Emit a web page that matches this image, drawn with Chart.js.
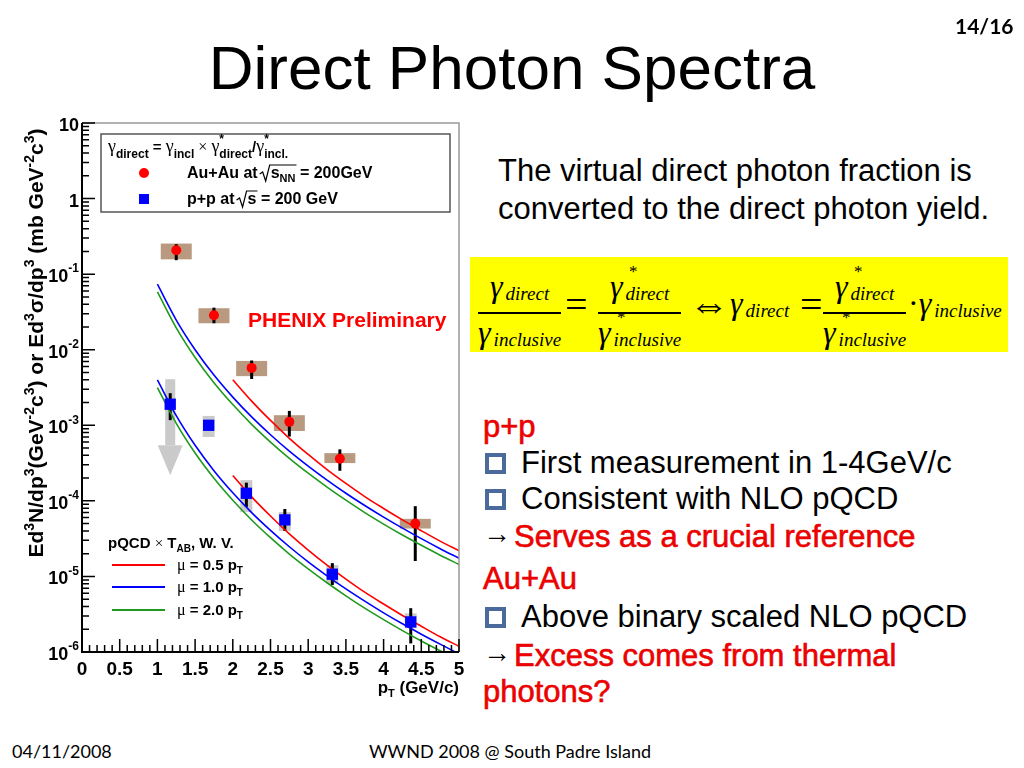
<!DOCTYPE html>
<html>
<head>
<meta charset="utf-8">
<title>Direct Photon Spectra</title>
<script src="https://cdn.jsdelivr.net/npm/chart.js@4.4.0/dist/chart.umd.min.js"></script>
<style>
  html, body { margin: 0; padding: 0; background: #fff; }
  #slide { position: relative; width: 1024px; height: 768px; overflow: hidden;
           font-family: 'Liberation Sans', Arial, sans-serif; color: #000; }
  #plot { position: absolute; left: 0; top: 0; }
  .t { position: absolute; white-space: nowrap; }
  #title { left: 0; width: 1024px; text-align: center; top: 37px; font-size: 62px; line-height: 62px; }
  #page { left: 955px; top: 14px; font: bold 21px Lato, 'Open Sans', sans-serif; line-height: 24px; }
  .foot { top: 740px; font: 18px Lato, 'Open Sans', sans-serif; line-height: 22px; }
  .body { font-size: 31px; line-height: 36px; }
  .red { color: #f20000; -webkit-text-stroke: 0.6px #e00000; }
  .sq { position: absolute; width: 13px; height: 13px; border: 4px solid #4a6a9b; }
  .arr { font-size: 28px; position: absolute; left: 0; top: -3px; }
  #formula { position: absolute; left: 470px; top: 257px; width: 538px; height: 95px; background: #ffff00;
             font-family: 'Liberation Serif', 'Times New Roman', serif; }
  .fx { position: absolute; top: 12px; display: flex; flex-direction: column; align-items: center; }
  .fx .bar { width: 100%; height: 1.5px; background: #000; margin: 1px 0; }
  .cell { font-style: italic; font-size: 32px; line-height: 34px; position: relative; white-space: nowrap; }
  .cell .sb { font-size: 19px; margin-left: 3px; vertical-align: -3px; }
  .cell .st { position: absolute; font-size: 17px; top: -14px; left: 19px; font-style: normal; }
  .op { position: absolute; font-size: 40px; line-height: 40px; top: 28px; }
  .mid { position: absolute; top: 29px; }
</style>
</head>
<body>
<div id="slide">
  <canvas id="plot" width="470" height="720"></canvas>

  <div class="t" id="title">Direct Photon Spectra</div>
  <div class="t" id="page">14/16</div>

  <div class="t body" style="left:498px; top:153px;">The virtual direct photon fraction is</div>
  <div class="t body" style="left:498px; top:191px;">converted to the direct photon yield.</div>

  <div id="formula">
    <div class="fx" style="left:8px;">
      <div class="cell">γ<span class="sb">direct</span></div>
      <div class="bar"></div>
      <div class="cell">γ<span class="sb">inclusive</span></div>
    </div>
    <div class="op" style="left:95px;">=</div>
    <div class="fx" style="left:128px;">
      <div class="cell">γ<span class="st">*</span><span class="sb">direct</span></div>
      <div class="bar"></div>
      <div class="cell">γ<span class="st">*</span><span class="sb">inclusive</span></div>
    </div>
    <div class="op" style="left:219px;">⇔</div>
    <div class="cell mid" style="left:260px;">γ<span class="sb">direct</span></div>
    <div class="op" style="left:330px;">=</div>
    <div class="fx" style="left:353px;">
      <div class="cell">γ<span class="st">*</span><span class="sb">direct</span></div>
      <div class="bar"></div>
      <div class="cell">γ<span class="st">*</span><span class="sb">inclusive</span></div>
    </div>
    <div class="cell mid" style="left:438px;"><span style="font-style:normal">·</span>γ<span class="sb">inclusive</span></div>
  </div>

  <div class="t body red" style="left:483px; top:409px;">p+p</div>
  <div class="sq" style="left:485px; top:453px;"></div>
  <div class="t body" style="left:521px; top:445px;">First measurement in 1-4GeV/c</div>
  <div class="sq" style="left:485px; top:489px;"></div>
  <div class="t body" style="left:521px; top:481px;">Consistent with NLO pQCD</div>
  <div class="t body" style="left:483px; top:519px;"><span class="arr">→</span></div>
  <div class="t body red" style="left:514px; top:519px;">Serves as a crucial reference</div>
  <div class="t body red" style="left:483px; top:561px;">Au+Au</div>
  <div class="sq" style="left:485px; top:607px;"></div>
  <div class="t body" style="left:521px; top:599px;">Above binary scaled NLO pQCD</div>
  <div class="t body" style="left:483px; top:638px;"><span class="arr">→</span></div>
  <div class="t body red" style="left:514px; top:638px;">Excess comes from thermal</div>
  <div class="t body red" style="left:483px; top:674px;">photons?</div>

  <div class="t foot" style="left:12px;">04/11/2008</div>
  <div class="t foot" style="left:0; width:1020px; text-align:center;">WWND 2008 @ South Padre Island</div>
</div>

<script>
// ---- data ----
const X_TICK_VALUES = [0, 0.5, 1, 1.5, 2, 2.5, 3, 3.5, 4, 4.5, 5];
const X_TICK_LABELS = ['0', '0.5', '1', '1.5', '2', '2.5', '3', '3.5', '4', '4.5', '5'];
const Y_TICK_VALUES = [10, 1, 1e-1, 1e-2, 1e-3, 1e-4, 1e-5, 1e-6];
const Y_TICK_BASE = ['10', '1', '10', '10', '10', '10', '10', '10'];
const Y_TICK_EXP = ['', '', '-1', '-2', '-3', '-4', '-5', '-6'];

// Au+Au (red circles)
const AUAU_PT = [1.25, 1.75, 2.25, 2.75, 3.42, 4.42];
const AUAU_Y = [0.207, 0.0286, 5.75e-3, 1.11e-3, 3.6e-4, 5.0e-5];
const AUAU_STAT_HI = [0.249, 0.036, 7.2e-3, 1.55e-3, 4.8e-4, 8.5e-5];
const AUAU_STAT_LO = [0.153, 0.0224, 4.1e-3, 7.1e-4, 2.5e-4, 1.6e-5];
const AUAU_SYS_HI = [0.254, 0.0354, 7.1e-3, 1.36e-3, 4.28e-4, 5.78e-5];
const AUAU_SYS_LO = [0.157, 0.0224, 4.47e-3, 8.4e-4, 3.16e-4, 4.3e-5];

// p+p (blue squares), first point is shown as an upper-limit arrow
const PP_PT = [1.17, 1.68, 2.18, 2.69, 3.32, 4.36];
const PP_Y = [1.9e-3, 1.0e-3, 1.26e-4, 5.6e-5, 1.07e-5, 2.5e-6];
const PP_STAT_HI = [2.66e-3, 1.08e-3, 1.74e-4, 7.8e-5, 1.5e-5, 3.8e-6];
const PP_STAT_LO = [1.17e-3, 0.9e-3, 8.3e-5, 4.0e-5, 7.7e-6, 1.3e-6];
const PP_SYS_HI = [null, 1.33e-3, 1.88e-4, 7.1e-5, 1.41e-5, 3.24e-6];
const PP_SYS_LO = [null, 7.0e-4, 7.1e-5, 4.0e-5, 8.07e-6, 2.06e-6];
const PP_ARROW = [4.07e-3, 5.46e-4, 2.19e-4]; // top, neck, tip

// NLO pQCD curves (W. Vogelsang), mu = 0.5 / 1.0 / 2.0 pT
const PT_CURVE = [1.0, 1.25, 1.5, 1.75, 2.0, 2.25, 2.5, 2.75, 3.0, 3.25, 3.5, 3.75, 4.0, 4.25, 4.5, 4.75, 5.0];
const PT_CURVE_05 = [2.0, 2.25, 2.5, 2.75, 3.0, 3.25, 3.5, 3.75, 4.0, 4.25, 4.5, 4.75, 5.0];
const AUAU_MU05 = [4.0e-3, 2.09e-3, 1.16e-3, 6.73e-4, 4.11e-4, 2.59e-4, 1.70e-4, 1.14e-4, 7.93e-5, 5.60e-5, 4.03e-5, 2.93e-5, 2.19e-5];
const AUAU_MU10 = [7.35e-2, 2.47e-2, 1.00e-2, 4.62e-3, 2.36e-3, 1.29e-3, 7.50e-4, 4.55e-4, 2.88e-4, 1.88e-4, 1.26e-4, 8.67e-5, 6.08e-5, 4.35e-5, 3.16e-5, 2.33e-5, 1.74e-5];
const AUAU_MU20 = [5.82e-2, 1.95e-2, 7.9e-3, 3.66e-3, 1.88e-3, 1.03e-3, 6.0e-4, 3.65e-4, 2.32e-4, 1.52e-4, 1.02e-4, 7.0e-5, 4.93e-5, 3.53e-5, 2.58e-5, 1.91e-5, 1.44e-5];
const PP_MU05 = [2.17e-4, 1.13e-4, 6.30e-5, 3.65e-5, 2.23e-5, 1.41e-5, 9.23e-6, 6.19e-6, 4.31e-6, 3.04e-6, 2.19e-6, 1.59e-6, 1.19e-6];
const PP_MU10 = [3.99e-3, 1.34e-3, 5.43e-4, 2.51e-4, 1.28e-4, 7.0e-5, 4.07e-5, 2.47e-5, 1.56e-5, 1.02e-5, 6.84e-6, 4.71e-6, 3.30e-6, 2.36e-6, 1.72e-6, 1.27e-6, 9.45e-7];
const PP_MU20 = [3.16e-3, 1.06e-3, 4.29e-4, 1.99e-4, 1.02e-4, 5.59e-5, 3.26e-5, 1.98e-5, 1.26e-5, 8.25e-6, 5.54e-6, 3.80e-6, 2.68e-6, 1.92e-6, 1.40e-6, 1.04e-6, 7.82e-7];

const RED = '#ff0000', BLUE = '#0000ff', GREEN = '#1f9a1f';
const SANS = "'Liberation Sans', Arial, sans-serif";
const GREEK = "'Liberation Serif', 'DejaVu Serif', serif";
const B = (s) => `bold ${s}px ${SANS}`;

const pts = (xs, ys) => xs.map((x, i) => ({ x: x, y: ys[i] }));

// draw a run of text pieces (sub/superscripts via dy), returns end x
function drawParts(ctx, x, y, parts, measureOnly) {
    for (const p of parts) {
        ctx.font = p.f;
        if (!measureOnly) {
            ctx.fillStyle = p.c || '#000';
            ctx.fillText(p.t, x, y + (p.dy || 0));
        }
        if (!p.stay) x += ctx.measureText(p.t).width;
    }
    return x;
}

function drawSqrt(ctx, x, yb, w, h) {
    ctx.beginPath();
    ctx.moveTo(x, yb - 6);
    ctx.lineTo(x + 3, yb - 8);
    ctx.lineTo(x + 6, yb + 1);
    ctx.lineTo(x + 10, yb - h);
    ctx.lineTo(x + w, yb - h);
    ctx.strokeStyle = '#000';
    ctx.lineWidth = 1.2;
    ctx.stroke();
}

const rootStyle = {
    id: 'rootStyle',
    beforeDatasetsDraw(chart) {
        const { ctx, chartArea: a, scales: { x, y } } = chart;
        ctx.save();
        ctx.beginPath();
        ctx.rect(a.left, a.top, a.right - a.left, a.bottom - a.top);
        ctx.clip();

        // systematic boxes
        ctx.fillStyle = '#b99a80';
        AUAU_PT.forEach((p, i) => {
            const px = x.getPixelForValue(p);
            const y0 = y.getPixelForValue(AUAU_SYS_HI[i]);
            const y1 = y.getPixelForValue(AUAU_SYS_LO[i]);
            ctx.fillRect(px - 15.5, y0, 31, y1 - y0);
        });
        ctx.fillStyle = '#cacaca';
        PP_PT.forEach((p, i) => {
            if (PP_SYS_HI[i] == null) return;
            const px = x.getPixelForValue(p);
            const y0 = y.getPixelForValue(PP_SYS_HI[i]);
            const y1 = y.getPixelForValue(PP_SYS_LO[i]);
            ctx.fillRect(px - 6, y0, 12, y1 - y0);
        });

        // upper-limit arrow on the first p+p point
        const ax = x.getPixelForValue(PP_PT[0]);
        const aTop = y.getPixelForValue(PP_ARROW[0]);
        const aNeck = y.getPixelForValue(PP_ARROW[1]);
        const aTip = y.getPixelForValue(PP_ARROW[2]);
        ctx.fillRect(ax - 5, aTop, 10, aNeck - aTop);
        ctx.beginPath();
        ctx.moveTo(ax - 12.5, aNeck);
        ctx.lineTo(ax + 12.5, aNeck);
        ctx.lineTo(ax, aTip);
        ctx.closePath();
        ctx.fill();

        // statistical error bars
        ctx.strokeStyle = '#000';
        ctx.lineWidth = 3;
        const bar = (p, hi, lo) => {
            const px = x.getPixelForValue(p);
            ctx.beginPath();
            ctx.moveTo(px, y.getPixelForValue(hi));
            ctx.lineTo(px, y.getPixelForValue(lo));
            ctx.stroke();
        };
        AUAU_PT.forEach((p, i) => bar(p, AUAU_STAT_HI[i], AUAU_STAT_LO[i]));
        PP_PT.forEach((p, i) => bar(p, PP_STAT_HI[i], PP_STAT_LO[i]));
        ctx.restore();
    },
    afterDraw(chart) {
        const { ctx, chartArea: a, scales: { x, y } } = chart;
        ctx.save();
        ctx.textBaseline = 'alphabetic';

        // frame: gray top/right, black axes
        ctx.strokeStyle = '#999';
        ctx.lineWidth = 1.5;
        ctx.beginPath();
        ctx.moveTo(a.left, a.top);
        ctx.lineTo(a.right, a.top);
        ctx.lineTo(a.right, a.bottom);
        ctx.stroke();
        ctx.strokeStyle = '#000';
        ctx.lineWidth = 2;
        ctx.beginPath();
        ctx.moveTo(a.left, a.top);
        ctx.lineTo(a.left, a.bottom);
        ctx.lineTo(a.right, a.bottom);
        ctx.stroke();

        // inward ticks
        ctx.lineWidth = 1.5;
        ctx.beginPath();
        for (let i = 0; i <= 50; i++) {
            const px = x.getPixelForValue(i / 10);
            const len = i % 5 === 0 ? 13 : 7;
            ctx.moveTo(px, a.bottom);
            ctx.lineTo(px, a.bottom - len);
        }
        for (let e = -6; e <= 1; e++) {
            for (let k = 1; k <= 9; k++) {
                const v = k * Math.pow(10, e);
                if (v > 10.0001) break;
                const py = y.getPixelForValue(v);
                ctx.moveTo(a.left, py);
                ctx.lineTo(a.left + (k === 1 ? 13 : 7), py);
            }
        }
        ctx.stroke();

        // tick labels
        ctx.fillStyle = '#000';
        ctx.textBaseline = 'middle';
        ctx.textAlign = 'center';
        ctx.font = B(19);
        X_TICK_VALUES.forEach((v, i) => ctx.fillText(X_TICK_LABELS[i], x.getPixelForValue(v), a.bottom + 18));
        ctx.textAlign = 'left';
        Y_TICK_VALUES.forEach((v, i) => {
            const py = y.getPixelForValue(v) + 3;
            ctx.font = B(18);
            const wb = ctx.measureText(Y_TICK_BASE[i]).width;
            ctx.font = B(12);
            const we = Y_TICK_EXP[i] ? ctx.measureText(Y_TICK_EXP[i]).width : 0;
            const x0 = a.left - 3 - wb - we;
            ctx.font = B(18);
            ctx.fillText(Y_TICK_BASE[i], x0, py);
            if (Y_TICK_EXP[i]) {
                ctx.font = B(12);
                ctx.fillText(Y_TICK_EXP[i], x0 + wb, py - 8);
            }
        });
        ctx.textBaseline = 'alphabetic';

        // axis titles
        const xt = [{ t: 'p', f: B(17) }, { t: 'T', f: B(11), dy: 4 }, { t: ' (GeV/c)', f: B(17) }];
        const xw = drawParts(ctx, 0, 0, xt, true);
        drawParts(ctx, a.right - xw, 693, xt);

        const yt = [
            { t: 'Ed', f: B(21) }, { t: '3', f: B(14), dy: -9 }, { t: 'N/dp', f: B(21) }, { t: '3', f: B(14), dy: -9 },
            { t: '(GeV', f: B(21) }, { t: '-2', f: B(14), dy: -9 }, { t: 'c', f: B(21) }, { t: '3', f: B(14), dy: -9 },
            { t: ') or Ed', f: B(21) }, { t: '3', f: B(14), dy: -9 }, { t: 'σ/dp', f: B(21) }, { t: '3', f: B(14), dy: -9 },
            { t: ' (mb GeV', f: B(21) }, { t: '-2', f: B(14), dy: -9 }, { t: 'c', f: B(21) }, { t: '3', f: B(14), dy: -9 },
            { t: ')', f: B(21) }
        ];
        const yw = drawParts(ctx, 0, 0, yt, true);
        ctx.save();
        ctx.translate(43, 343);
        ctx.rotate(-Math.PI / 2);
        drawParts(ctx, -yw / 2, 0, yt);
        ctx.restore();

        // legend box (data)
        ctx.fillStyle = '#fff';
        ctx.fillRect(101, 134, 349, 78);
        ctx.strokeStyle = '#555';
        ctx.lineWidth = 1.5;
        ctx.strokeRect(101, 134, 349, 78);

        const g = `18px ${GREEK}`;
        drawParts(ctx, 108, 152, [
            { t: 'γ', f: g }, { t: 'direct', f: B(12), dy: 6 }, { t: ' = ', f: B(15) },
            { t: 'γ', f: g }, { t: 'incl', f: B(12), dy: 6 }, { t: ' × ', f: `16px ${GREEK}` },
            { t: 'γ', f: g }, { t: '*', f: B(12), dy: -9, stay: true }, { t: 'direct', f: B(12), dy: 6 },
            { t: '/', f: B(15) },
            { t: 'γ', f: g }, { t: '*', f: B(12), dy: -9, stay: true }, { t: 'incl.', f: B(12), dy: 6 }
        ]);

        ctx.fillStyle = RED;
        ctx.beginPath();
        ctx.arc(144, 173, 5, 0, Math.PI * 2);
        ctx.fill();
        let xx = drawParts(ctx, 187, 178, [{ t: 'Au+Au at', f: B(16) }]) + 2;
        let rad = [{ t: 's', f: B(16) }, { t: 'NN', f: B(11), dy: 4 }];
        let rw = drawParts(ctx, 0, 0, rad, true);
        drawSqrt(ctx, xx, 180, 11 + rw + 1, 15);
        xx = drawParts(ctx, xx + 11, 178, rad);
        drawParts(ctx, xx, 178, [{ t: ' = 200GeV', f: B(16) }]);

        ctx.fillStyle = BLUE;
        ctx.fillRect(139, 194, 10, 10);
        xx = drawParts(ctx, 187, 204, [{ t: 'p+p at', f: B(16) }]) + 2;
        rad = [{ t: 's', f: B(16) }];
        rw = drawParts(ctx, 0, 0, rad, true);
        drawSqrt(ctx, xx, 206, 11 + rw + 1, 15);
        xx = drawParts(ctx, xx + 11, 204, rad);
        drawParts(ctx, xx, 204, [{ t: ' = 200 GeV', f: B(16) }]);

        // PHENIX label
        drawParts(ctx, 248, 327, [{ t: 'PHENIX Preliminary', f: B(21), c: RED }]);

        // legend (theory)
        drawParts(ctx, 108, 548, [
            { t: 'pQCD ', f: B(15) }, { t: '×', f: `15px ${GREEK}` }, { t: ' T', f: B(15) },
            { t: 'AB', f: B(10), dy: 4 }, { t: ', W. V.', f: B(15) }
        ]);
        [[RED, '0.5', 565], [BLUE, '1.0', 587], [GREEN, '2.0', 610]].forEach(([c, m, ly]) => {
            ctx.strokeStyle = c;
            ctx.lineWidth = 2;
            ctx.beginPath();
            ctx.moveTo(112, ly);
            ctx.lineTo(165, ly);
            ctx.stroke();
            drawParts(ctx, 177, ly + 5, [
                { t: 'μ', f: `16px ${GREEK}` }, { t: ' = ' + m + ' p', f: B(15) }, { t: 'T', f: B(10), dy: 4 }
            ]);
        });
        ctx.restore();
    }
};

const curve = (label, xs, ys, color) => ({
    type: 'line', label: label, data: pts(xs, ys), borderColor: color, borderWidth: 1.6,
    pointRadius: 0, fill: false, cubicInterpolationMode: 'monotone', order: 2
});

new Chart(document.getElementById('plot'), {
    type: 'scatter',
    data: {
        datasets: [
            { label: 'Au+Au', data: pts(AUAU_PT, AUAU_Y), pointStyle: 'circle', pointRadius: 5,
              backgroundColor: RED, borderColor: RED, borderWidth: 0, order: 0 },
            { label: 'p+p', data: pts(PP_PT, PP_Y), pointStyle: 'rect', pointRadius: 8,
              backgroundColor: BLUE, borderColor: BLUE, borderWidth: 0, order: 0 },
            curve('AuAu mu=0.5', PT_CURVE_05, AUAU_MU05, RED),
            curve('AuAu mu=1.0', PT_CURVE, AUAU_MU10, BLUE),
            curve('AuAu mu=2.0', PT_CURVE, AUAU_MU20, GREEN),
            curve('pp mu=0.5', PT_CURVE_05, PP_MU05, RED),
            curve('pp mu=1.0', PT_CURVE, PP_MU10, BLUE),
            curve('pp mu=2.0', PT_CURVE, PP_MU20, GREEN)
        ]
    },
    options: {
        responsive: false,
        animation: false,
        layout: { padding: { left: 0, top: 123, right: 11, bottom: 8 } },
        scales: {
            x: {
                type: 'linear', min: 0, max: 5,
                afterFit: (s) => { s.height = 60; },
                grid: { display: false, drawTicks: false },
                border: { display: false },
                ticks: { display: false, stepSize: 0.5 }
            },
            y: {
                type: 'logarithmic', min: 1e-6, max: 10,
                afterFit: (s) => { s.width = 82; },
                grid: { display: false, drawTicks: false },
                border: { display: false },
                ticks: { display: false }
            }
        },
        plugins: { legend: { display: false }, tooltip: { enabled: false } }
    },
    plugins: [rootStyle]
});
</script>
</body>
</html>
